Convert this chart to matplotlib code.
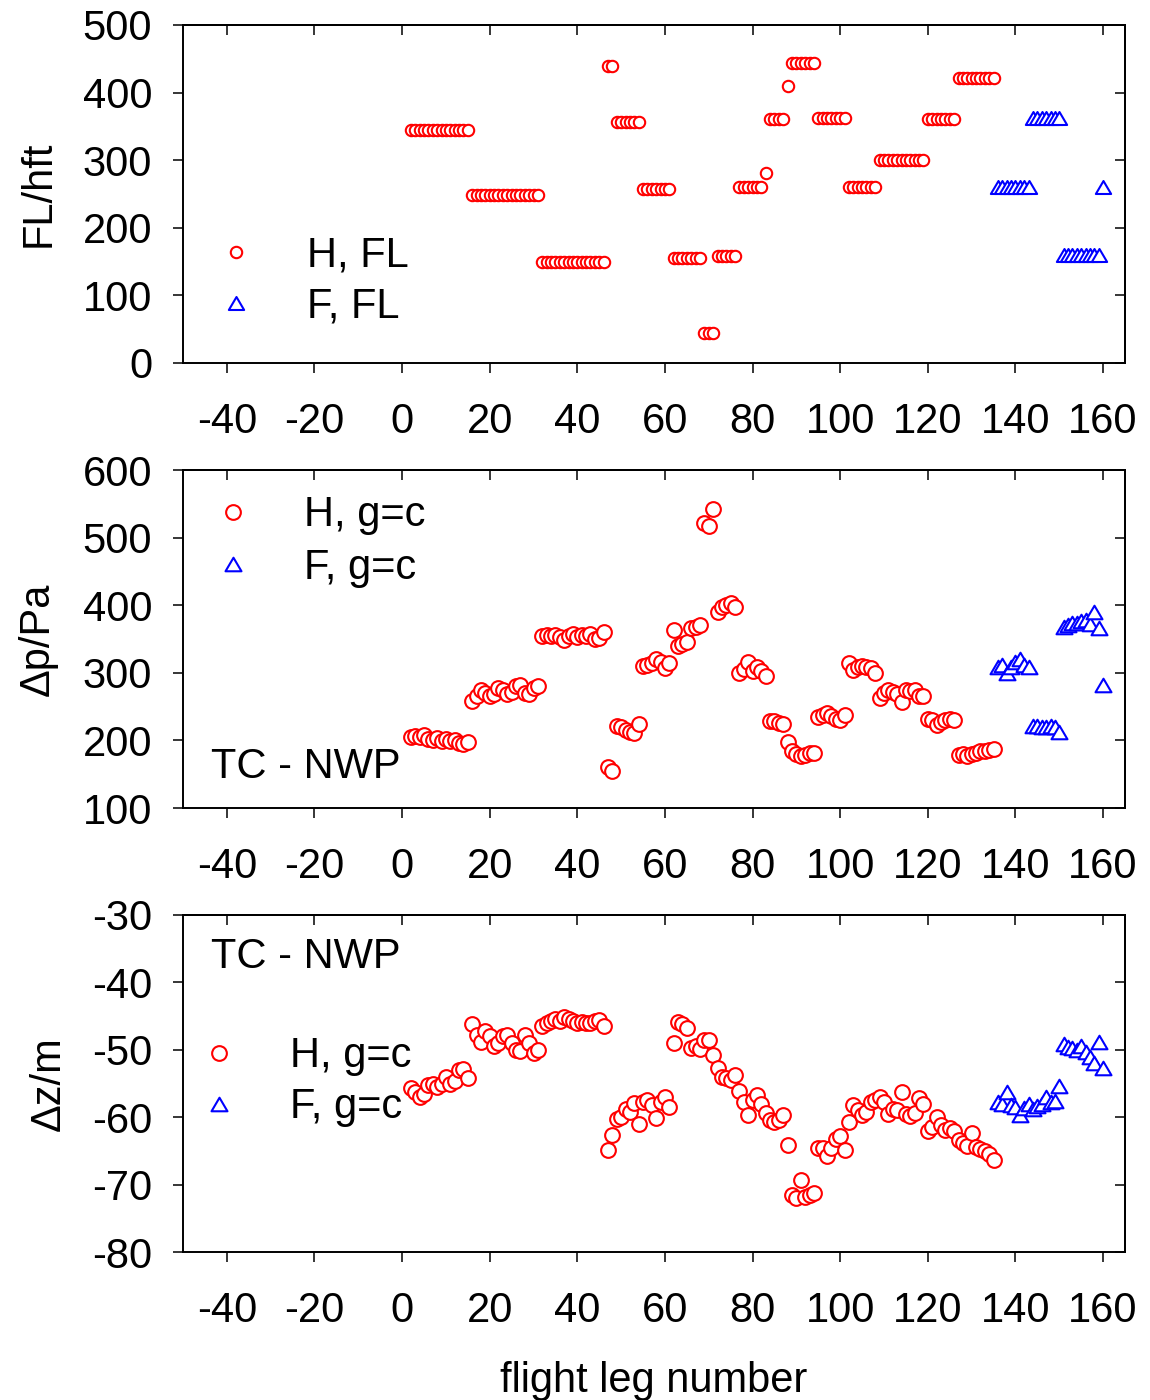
import numpy as np
import matplotlib
matplotlib.use("Agg")
import matplotlib.pyplot as plt
from matplotlib.path import Path

plt.rcParams['font.family'] = ['Liberation Sans', 'DejaVu Sans']
plt.rcParams['axes.unicode_minus'] = False

# ---------------- data ----------------
legs_H = list(range(2, 136))
legs_F = list(range(136, 161))

fl_H = ([345] * 14 + [248] * 16 + [150] * 15 + [440] * 2 + [357] * 6 + [257] * 7 +
        [155] * 7 + [44] * 3 + [158] * 5 + [260] * 6 + [281] + [361] * 4 + [410] +
        [444] * 6 + [363] * 7 + [261] * 7 + [301] * 11 + [361] * 7 + [421] * 9)
fl_F = [261] * 8 + [362] * 7 + [160] * 9 + [261]

dp_H = [205, 207, 205, 208, 202, 201, 204, 199, 202, 199, 201, 196, 195, 198,
        258, 265, 275, 270, 265, 268, 278, 275, 268, 272, 280, 282, 270, 268, 278, 280,
        355, 356, 354, 356, 353, 349, 355, 357, 353, 356, 355, 357, 350, 352, 360,
        160, 154,
        222, 220, 215, 213, 211, 224,
        310, 311, 315, 321, 316, 307, 314,
        363, 340, 343, 346, 366, 368, 370,
        521, 517, 542,
        390, 398, 400, 403, 398,
        299, 305, 316, 302, 308, 302, 295,
        228, 228, 226, 224,
        198, 185, 180, 177, 178, 182, 182,
        235, 238, 240, 236, 232, 230, 237,
        314, 304, 308, 310, 309, 307, 299,
        262, 270, 275, 272, 268, 257, 275, 273, 275, 265, 265,
        232, 230, 223, 227, 230, 232, 230,
        178, 180, 177, 180, 182, 184, 185, 186, 188]
dp_F = [309, 312, 299, 309, 316, 321, 312, 309,
        222, 222, 220, 220, 222, 220, 212,
        368, 371, 373, 374, 376, 378, 372, 390, 366,
        282]

dz_H = [-55.7, -56.2, -57.0, -56.5, -55.2, -55.0, -55.5, -55.0, -54.0, -55.0, -54.6, -53.0, -52.8, -54.2,
        -46.2, -47.8, -48.8, -47.2, -48.0, -49.5, -49.0, -48.0, -47.8, -49.0, -50.0, -50.2, -47.8, -49.0, -50.5, -50.0,
        -46.5, -46.0, -45.8, -45.5, -45.8, -45.2, -45.5, -45.8, -46.0, -45.9, -46.0, -46.0, -45.8, -45.6, -46.5,
        -64.9, -62.6, -60.3, -60.0, -58.8, -59.3, -57.9, -61.0, -57.7, -57.4, -58.2, -60.1, -57.7, -57.0, -58.5,
        -49.0, -45.9, -46.1, -46.8, -49.7, -49.5, -49.9, -48.6, -48.5, -50.8, -52.7, -54.0, -54.2, -54.5, -53.7,
        -56.1, -57.7, -59.7, -57.4, -56.7, -58.0, -59.4, -60.4, -60.7, -60.4, -59.7,
        -64.1, -71.5, -72.0, -69.3, -71.8, -71.5, -71.3,
        -64.5, -64.6, -65.8, -64.5, -63.2, -62.8, -64.9,
        -60.7, -58.2, -59.0, -59.7, -59.3, -57.8, -57.4,
        -57.0, -57.7, -59.5, -58.8, -59.0, -56.3, -59.5, -59.8, -59.4, -57.2, -58.0,
        -62.0, -61.5, -60.0, -61.2, -61.9, -61.6, -62.0, -63.4, -63.8, -64.3, -62.4, -64.4, -64.7, -65.0, -65.4, -66.4]
dz_F = [-57.8, -58.0, -56.3, -58.2, -58.5, -59.7, -58.7, -58.0,
        -58.8, -58.3, -58.0, -57.0, -57.8, -57.6, -55.4,
        -49.1, -49.6, -49.7, -50.0, -49.5, -50.3, -51.0, -52.0, -48.8,
        -52.7]

x_ticks = [-40, -20, 0, 20, 40, 60, 80, 100, 120, 140, 160]
y1_ticks = [0, 100, 200, 300, 400, 500]
y2_ticks = [100, 200, 300, 400, 500, 600]
y3_ticks = [-80, -70, -60, -50, -40, -30]

# ---------------- layout ----------------
W, H = 1150, 1400
FS = 30
fs_px = FS / 72 * 100
RED, BLUE = '#ff0000', '#0000ff'
TRI = Path([(0, 0.85), (-1, -0.85), (1, -0.85), (0, 0.85)],
           [Path.MOVETO, Path.LINETO, Path.LINETO, Path.CLOSEPOLY])

fig = plt.figure(figsize=(W / 100, H / 100), dpi=100)


def make_ax(top_px, bot_px):
    ax = fig.add_axes([183 / W, 1 - bot_px / H, (1125 - 183) / W, (bot_px - top_px) / H])
    return ax


def style(ax, yt, ylim):
    ax.set_xlim(-50, 165)
    ax.set_ylim(*ylim)
    ax.set_xticks(x_ticks)
    ax.set_yticks(yt)
    ax.tick_params(direction='out', length=7.2, width=1.1, labelsize=FS,
                   top=False, right=False)
    ax.tick_params(axis='x', pad=21)
    ax.tick_params(axis='y', pad=15)
    for s in ax.spines.values():
        s.set_linewidth(1.4)
    sx = ax.secondary_xaxis('top')
    sx.set_xticks(x_ticks)
    sx.tick_params(direction='in', length=7.2, width=1.1, labeltop=False, labelbottom=False)
    sx.spines['top'].set_linewidth(1.4)
    sy = ax.secondary_yaxis('right')
    sy.set_yticks(yt)
    sy.tick_params(direction='in', length=7.2, width=1.1, labelright=False, labelleft=False)
    sy.spines['right'].set_linewidth(1.4)


def add_legend(ax, handles, labels, mx, cy, spacing):
    hl = 1.0
    left = mx - 0.5 * hl * fs_px
    top = cy - 0.358 * fs_px
    ax.legend(handles, labels, loc='upper left',
              bbox_to_anchor=(left / W, 1 - top / H), bbox_transform=fig.transFigure,
              frameon=False, borderpad=0, borderaxespad=0, handlelength=hl,
              handletextpad=1.2, labelspacing=spacing, fontsize=FS, numpoints=1)


# Panel 1
ax1 = make_ax(25, 363)
h1, = ax1.plot(legs_H, fl_H, ls='none', marker='o', ms=8.2, mew=1.5, mec=RED, mfc='white', color=RED)
f1, = ax1.plot(legs_F, fl_F, ls='none', marker=TRI, ms=11.0, mew=1.5, mec=BLUE, mfc='white', color=BLUE)
style(ax1, y1_ticks, (0, 500))
ax1.set_ylabel('FL/hft', fontsize=FS)
ax1.yaxis.set_label_coords((59 - 183) / 942, 0.5)
add_legend(ax1, [h1, f1], ['H, FL', 'F, FL'], 236, 250, 0.27)

# Panel 2
ax2 = make_ax(470, 808)
h2, = ax2.plot(legs_H, dp_H, ls='none', marker='o', ms=10.6, mew=1.5, mec=RED, mfc='white', color=RED)
f2, = ax2.plot(legs_F, dp_F, ls='none', marker=TRI, ms=11.5, mew=1.5, mec=BLUE, mfc='white', color=BLUE)
style(ax2, y2_ticks, (100, 600))
ax2.set_ylabel('Δp/Pa', fontsize=FS)
ax2.yaxis.set_label_coords((58 - 183) / 942, 0.5)
add_legend(ax2, [h2, f2], ['H, g=c', 'F, g=c'], 232.7, 510, 0.30)
ax2.text((211 - 183) / 942, (808 - 778) / 338, 'TC - NWP', transform=ax2.transAxes,
         fontsize=FS, ha='left', va='baseline')

# Panel 3
ax3 = make_ax(915, 1252)
h3, = ax3.plot(legs_H, dz_H, ls='none', marker='o', ms=10.6, mew=1.5, mec=RED, mfc='white', color=RED)
f3, = ax3.plot(legs_F, dz_F, ls='none', marker=TRI, ms=11.5, mew=1.5, mec=BLUE, mfc='white', color=BLUE)
style(ax3, y3_ticks, (-80, -30))
ax3.set_ylabel('Δz/m', fontsize=FS)
ax3.yaxis.set_label_coords((69 - 183) / 942, 0.5)
add_legend(ax3, [h3, f3], ['H, g=c', 'F, g=c'], 219.3, 1051, 0.27)
ax3.text((211 - 183) / 942, (1252 - 968) / 337, 'TC - NWP', transform=ax3.transAxes,
         fontsize=FS, ha='left', va='baseline')

fig.text(654 / W, 1 - 1392 / H, 'flight leg number', ha='center', va='baseline', fontsize=FS)

fig.savefig('out.png', dpi=100)
